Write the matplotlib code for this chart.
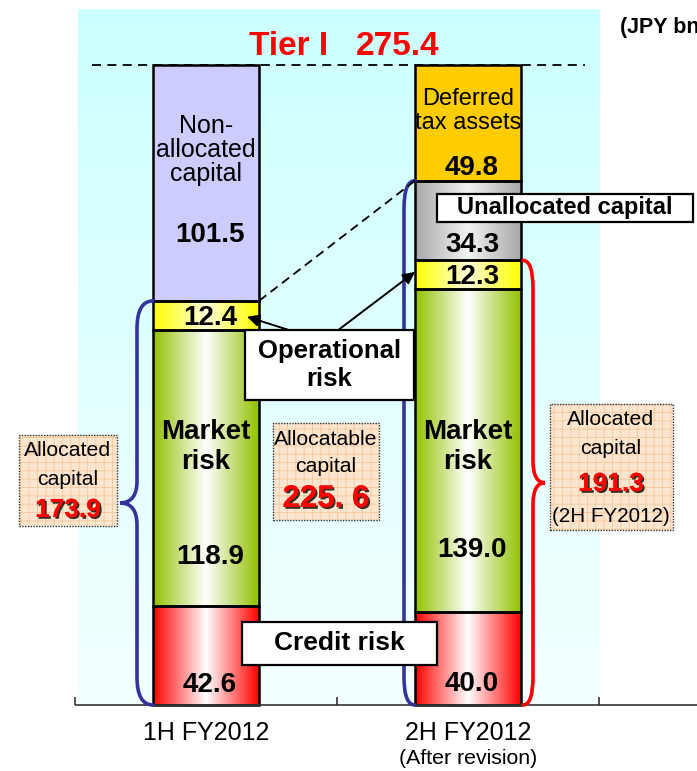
import numpy as np
import matplotlib.pyplot as plt
from matplotlib.colors import to_rgb
from matplotlib.patches import Rectangle, PathPatch
from matplotlib.path import Path
from matplotlib import font_manager as fm
import matplotlib.patheffects as pe

# ---- data (JPY bn) ----
periods = ['1H FY2012', '2H FY2012']
period_notes = ['', '(After revision)']
tier1 = 275.4

names_1h = ['Credit risk', 'Market risk', 'Operational risk', 'Non-allocated capital']
values_1h = [42.6, 118.9, 12.4, 101.5]
names_2h = ['Credit risk', 'Market risk', 'Operational risk', 'Unallocated capital',
            'Deferred tax assets']
values_2h = [40.0, 139.0, 12.3, 34.3, 49.8]

allocated_1h = 173.9
allocatable_2h = 225.6
allocated_2h = 191.3

# ---- styles ----
seg_style = {  # edge colour, centre colour (None = flat)
    'Credit risk': ('#FF0000', '#FFFFFF'),
    'Market risk': ('#92C100', '#FFFFFF'),
    'Operational risk': ('#FFFF00', '#FFFFD8'),
    'Non-allocated capital': ('#CCCCFF', None),
    'Unallocated capital': ('#A8A8A8', '#F2F2F2'),
    'Deferred tax assets': ('#FFCC00', None),
}

plt.rcParams['font.family'] = ['Liberation Sans', 'DejaVu Sans']
try:
    fm.findfont(fm.FontProperties(family='Liberation Sans Narrow'), fallback_to_default=False)
    NARROW, NS = ['Liberation Sans Narrow', 'DejaVu Sans'], 1.0
except ValueError:
    NARROW, NS = ['Liberation Sans', 'DejaVu Sans'], 0.9

W, H = 697, 771
X0, Y0 = 206.0, 705.0          # pixel position of first bar centre / baseline
SX, SY = 262.0, 640.0 / tier1  # pixels per category / per JPY bn


def P(px, py):
    return ((px - X0) / SX, (Y0 - py) / SY)


def dx(px):
    return px / SX


def dy(px):
    return px / SY


def hgrad(edge, center, n=256):
    u = np.abs(np.linspace(-1, 1, n))
    e, c = np.array(to_rgb(edge)), np.array(to_rgb(center))
    return (c[None, :] * (1 - u[:, None]) + e[None, :] * u[:, None])[None, :, :]


fig = plt.figure(figsize=(W / 100, H / 100), dpi=100)
ax = fig.add_axes([0, 0, 1, 1])
ax.set_axis_off()

# background panel
top = np.array(to_rgb('#CCFFFF'))
bot = np.array(to_rgb('#F4FFFF'))
t = np.linspace(0, 1, 200)[:, None]
bg = (top * (1 - t) + bot * t)[:, None, :]
px0, py0 = P(78, 10)
px1, _ = P(600, 705)
ax.imshow(bg, extent=[px0, px1, 0, py0], aspect='auto', origin='upper', zorder=0)

# stacked bars
w = dx(106)
xs = np.arange(len(periods))
stacks = [values_1h, values_2h]
stack_names = [names_1h, names_2h]
for i, (vals, nms) in enumerate(zip(stacks, stack_names)):
    bottoms = np.concatenate([[0], np.cumsum(vals)[:-1]])
    cols = [seg_style[n][0] for n in nms]
    bars = ax.bar(np.full(len(vals), xs[i]), vals, bottom=bottoms, width=w,
                  color=cols, linewidth=0, zorder=2)
    for rect, n, b, v in zip(bars, nms, bottoms, vals):
        edge, center = seg_style[n]
        if center is not None:
            im = ax.imshow(hgrad(edge, center), extent=[xs[i] - w / 2, xs[i] + w / 2, b, b + v],
                           aspect='auto', interpolation='bilinear', zorder=2.1)
            im.set_clip_path(rect)
    ax.bar(np.full(len(vals), xs[i]), vals, bottom=bottoms, width=w, fill=False,
           edgecolor='black', linewidth=1.8, zorder=3)

# Tier I line and label
ax.hlines(tier1, P(92, 0)[0], P(585, 0)[0], colors='black', linestyles=(0, (5, 3.5)),
          lw=1.3, zorder=4)
ax.text(*P(249, 47), 'Tier I', color='red', fontsize=24, fontweight='bold',
        ha='left', va='center', zorder=5)
ax.text(*P(356, 47), f'{tier1:.1f}', color='red', fontsize=24, fontweight='bold',
        ha='left', va='center', zorder=5)
ax.text(*P(620, 28), '(JPY bn)', fontsize=15.5, fontweight='bold', ha='left', va='center')

# labels inside bars
name_labels = [
    (0, 'Non-\nallocated\ncapital', 150, 18, 'normal', 1.0),
    (0, 'Market\nrisk', 447, 20, 'bold', 1.2),
    (1, 'Deferred\ntax assets', 111, 17, 'normal', 1.15),
    (1, 'Market\nrisk', 447, 20, 'bold', 1.2),
]
for i, txt, py, fs, fw, ls in name_labels:
    ax.text(xs[i], P(0, py)[1], txt, ha='center', va='center', fontsize=fs,
            fontweight=fw, linespacing=ls, zorder=5)

value_y = [[685, 557, 318, 235], [684, 550, 277, 245, 168]]
for i, vals in enumerate(stacks):
    for v, py in zip(vals, value_y[i]):
        ax.text(xs[i] + dx(4), P(0, py)[1], f'{v:.1f}', ha='center', va='center',
                fontsize=20, fontweight='bold', zorder=5)

# braces
blue, red = '#333399', '#FF0000'


def brace(xe, xv, xt, y0, y1, r, rt, color):
    ym = (y0 + y1) / 2
    if xt is None:
        verts = [(xe, y1), (xv, y1), (xv, y1 - r), (xv, y0 + r), (xv, y0), (xe, y0)]
        codes = [Path.MOVETO, Path.CURVE3, Path.CURVE3, Path.LINETO, Path.CURVE3, Path.CURVE3]
    else:
        verts = [(xe, y1), (xv, y1), (xv, y1 - r), (xv, ym + rt), (xv, ym), (xt, ym),
                 (xv, ym), (xv, ym - rt), (xv, y0 + r), (xv, y0), (xe, y0)]
        codes = [Path.MOVETO, Path.CURVE3, Path.CURVE3, Path.LINETO, Path.CURVE3, Path.CURVE3,
                 Path.CURVE3, Path.CURVE3, Path.LINETO, Path.CURVE3, Path.CURVE3]
    ax.add_patch(PathPatch(Path(verts, codes), fill=False, edgecolor=color, lw=2.6,
                           capstyle='round', zorder=4))


xl0 = xs[0] - w / 2
brace(xl0, xl0 - dx(16), xl0 - dx(33), 0, allocated_1h, dy(28), dy(22), blue)
xl1 = xs[1] - w / 2
brace(xl1, xl1 - dx(11), None, 0, allocatable_2h, dy(28), 0, blue)
xr1 = xs[1] + w / 2 + dx(2)
brace(xr1, xr1 + dx(10), xr1 + dx(22), 0, allocated_2h, dy(28), dy(22), red)

# dashed connector and arrows
ax.plot([xl1, xs[0] + w / 2], [allocatable_2h, allocated_1h], color='black',
        ls=(0, (5, 3)), lw=1.3, zorder=4.5)
op0 = values_1h[0] + values_1h[1]
op1 = values_2h[0] + values_2h[1]
arrow = dict(arrowstyle='-|>', color='black', lw=1.4, mutation_scale=18, shrinkA=0, shrinkB=0)
ax.annotate('', xy=(xs[0] + w / 2 - dx(12), op0 + values_1h[2] * 0.45), xytext=P(292, 331),
            arrowprops=arrow, zorder=5.5)
ax.annotate('', xy=(xl1, op1 + values_2h[2] * 0.6), xytext=P(337, 331),
            arrowprops=arrow, zorder=5.5)


# white callout boxes
def white_box(x0, y0, x1, y1, text, size, ls=1.2):
    bx, by = P(x0, y1)
    ax.add_patch(Rectangle((bx, by), dx(x1 - x0), dy(y1 - y0), facecolor='white',
                           edgecolor='black', lw=1.6, zorder=6))
    ax.text(*P((x0 + x1) / 2, (y0 + y1) / 2), text, ha='center', va='center',
            fontsize=size, fontweight='bold', linespacing=ls, zorder=7)


white_box(437, 194, 693, 222, 'Unallocated capital', 17)
white_box(245, 330, 414, 400, 'Operational\nrisk', 18.5, 1.2)
white_box(242, 622, 437, 665, 'Credit risk', 19)

# peach note boxes
plt.rcParams['hatch.linewidth'] = 0.6
shadow = [pe.withSimplePatchShadow(offset=(1.3, -1.3), shadow_rgbFace='black', alpha=0.8),
          pe.Normal()]


def note_box(x0, y0, x1, y1):
    bx, by = P(x0, y1)
    ax.add_patch(Rectangle((bx, by), dx(x1 - x0), dy(y1 - y0), facecolor='#FDE6D0',
                           edgecolor='#F6C89A', hatch='++', lw=0, zorder=5))
    ax.add_patch(Rectangle((bx, by), dx(x1 - x0), dy(y1 - y0), fill=False,
                           edgecolor='#333333', ls=(0, (1, 1)), lw=1.0, zorder=5.1))


def ntext(px, py, s, fs, color='black', bold=False, fx=None):
    ax.text(*P(px, py), s, ha='center', va='center', fontsize=fs * NS, color=color,
            family=NARROW, fontweight='bold' if bold else 'normal', zorder=6,
            path_effects=fx)


note_box(19, 435, 117, 526)
ntext(68, 451, 'Allocated', 17)
ntext(68, 480, 'capital', 17)
ntext(68, 510, f'{allocated_1h:.1f}', 21, red, True, shadow)

note_box(273, 423, 379, 520)
ntext(326, 440, 'Allocatable', 17)
ntext(326, 467, 'capital', 17)
ntext(326, 499, f'{allocatable_2h:.1f}'.replace('.', '. '), 25, red, True, shadow)

note_box(550, 404, 673, 530)
ntext(611, 420, 'Allocated', 17)
ntext(611, 449, 'capital', 17)
ntext(611, 484, f'{allocated_2h:.1f}', 21, red, True, shadow)
ntext(611, 517, '(2H FY2012)', 16.5)

# baseline axis and category labels
ax.hlines(0, P(75, 0)[0], P(697, 0)[0], colors='#333333', lw=1.2, zorder=3)
ax.vlines(np.arange(len(periods) + 1) - 0.5, 0, dy(8), colors='#333333', lw=1.2, zorder=3)
for i, (p, note) in enumerate(zip(periods, period_notes)):
    ax.text(xs[i], P(0, 733)[1], p, ha='center', va='center', fontsize=20 * NS, family=NARROW)
    if note:
        ax.text(xs[i], P(0, 759)[1], note, ha='center', va='center', fontsize=17 * NS,
                family=NARROW)

ax.set_xlim(-X0 / SX, (W - X0) / SX)
ax.set_ylim(-(H - Y0) / SY, Y0 / SY)
fig.savefig('out.png', dpi=100, facecolor='white')
